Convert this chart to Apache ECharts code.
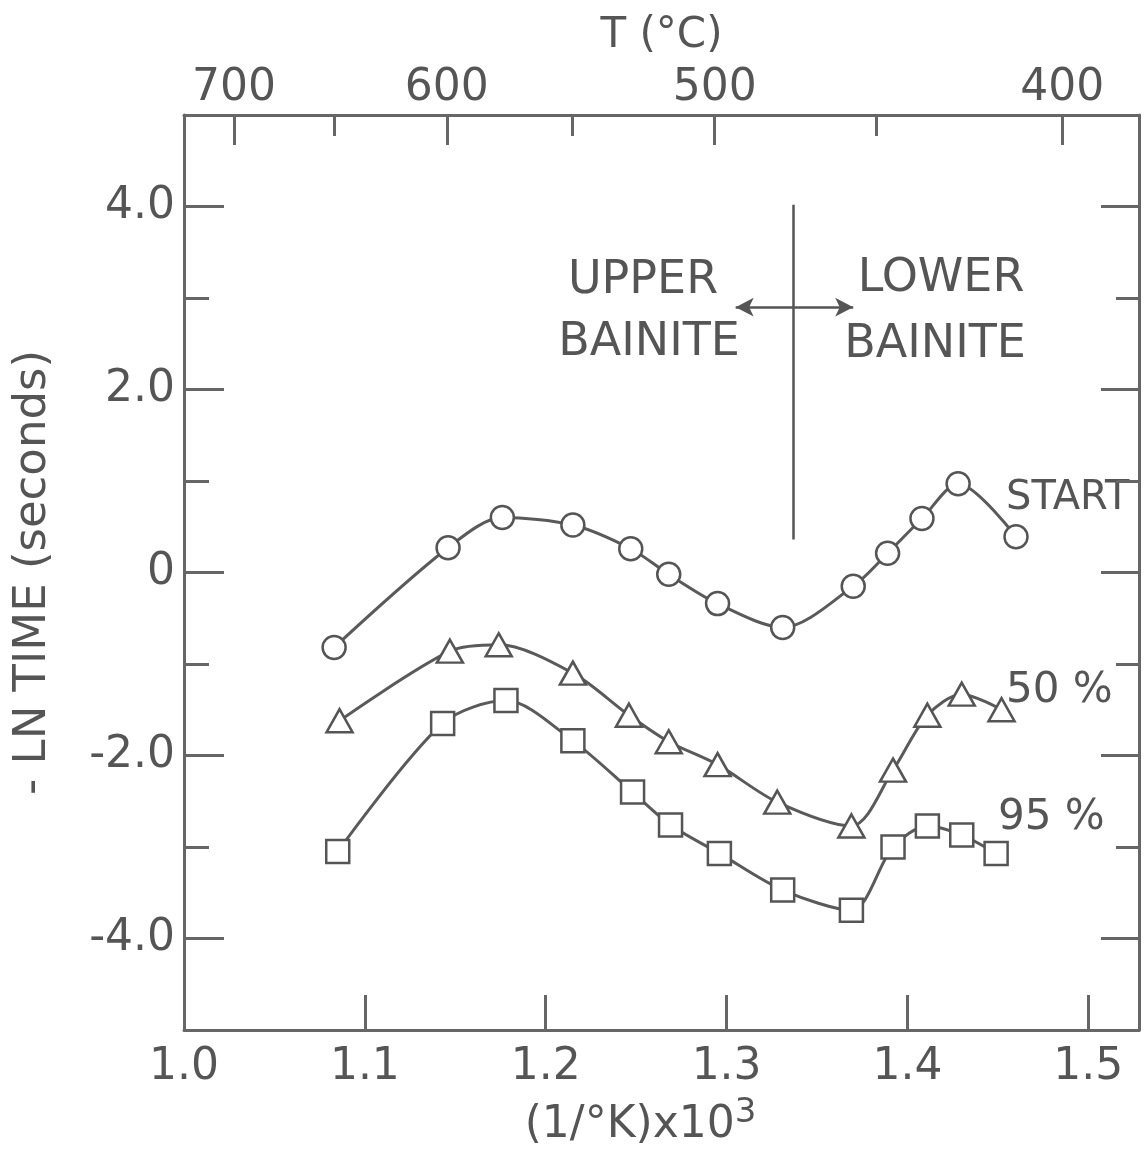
<!DOCTYPE html>
<html>
<head>
<meta charset="utf-8">
<script src="https://cdn.jsdelivr.net/npm/echarts@6/dist/echarts.min.js"></script>
<style>
  html, body { margin: 0; padding: 0; background: #ffffff; }
  #chart { width: 1147px; height: 1164px; }
</style>
</head>
<body>
<div id="chart"></div>
<script>
// ---- data (x = (1/°K) x 10^3, y = -ln time) ----
const startX = [1.083, 1.146, 1.176, 1.215, 1.247, 1.268, 1.295, 1.331, 1.370, 1.389, 1.408, 1.428, 1.460];
const startY = [-0.82, 0.27, 0.60, 0.52, 0.26, -0.02, -0.34, -0.60, -0.15, 0.21, 0.59, 0.97, 0.39];

const pct50X = [1.086, 1.147, 1.174, 1.215, 1.246, 1.268, 1.295, 1.328, 1.369, 1.392, 1.411, 1.430, 1.452];
const pct50Y = [-1.62, -0.86, -0.79, -1.10, -1.56, -1.85, -2.10, -2.51, -2.77, -2.16, -1.56, -1.33, -1.50];

const pct95X = [1.085, 1.143, 1.178, 1.215, 1.248, 1.269, 1.296, 1.331, 1.369, 1.392, 1.411, 1.430, 1.449];
const pct95Y = [-3.05, -1.65, -1.40, -1.84, -2.40, -2.76, -3.07, -3.47, -3.69, -3.00, -2.77, -2.87, -3.07];

// ---- axis ticks ----
const xTickValues = [1.1, 1.2, 1.3, 1.4, 1.5];
const xLabelValues = [1.0, 1.1, 1.2, 1.3, 1.4, 1.5];
const yMajorValues = [-4, -2, 0, 2, 4];
const yMinorValues = [-3, -1, 1, 3];
const tempMajorC = [700, 600, 500, 400];
const tempMinorC = [650, 550, 450];

// ---- annotations ----
const boundaryTempC = 475;          // upper / lower bainite boundary
const boundaryYRange = [4.02, 0.36];
const arrowY = 2.9;
const arrowXRange = [1.305, 1.370];

const toInvK = t => 1000 / (t + 273.15);
const pairs = (xs, ys) => xs.map((x, i) => [x, ys[i]]);

const FONT = 'DejaVu Sans';
const INK = '#555555';
const LINE = '#5a5a5a';
const X_MIN = 1.0, X_MAX = 1.528;

const axisLine = { show: true, onZero: false, lineStyle: { color: '#666', width: 3 } };

const chart = echarts.init(document.getElementById('chart'), null, { renderer: 'canvas' });

const symStyle = { color: '#ffffff', borderColor: INK, borderWidth: 2.5 };
function curve(name, data, symbol, size) {
  return {
    name, type: 'line', data, symbol, symbolSize: size, smooth: 0.3,
    xAxisIndex: 0, yAxisIndex: 0,
    lineStyle: { color: LINE, width: 3 },
    itemStyle: symStyle,
    showAllSymbol: true,
    emphasis: { disabled: true },
    z: 3
  };
}

const bx = toInvK(boundaryTempC);

const option = {
  animation: false,
  backgroundColor: '#ffffff',
  grid: { left: 184, right: 8, top: 115, bottom: 134, containLabel: false },
  xAxis: [
    {
      type: 'value', position: 'bottom', min: X_MIN, max: X_MAX,
      axisLine,
      axisTick: { show: true, inside: true, length: 35, customValues: xTickValues,
                  lineStyle: { color: '#666', width: 3 } },
      axisLabel: { show: true, customValues: xLabelValues, margin: 16,
                   formatter: v => v.toFixed(1),
                   fontFamily: FONT, fontSize: 44, color: INK },
      splitLine: { show: false },
      name: '{a|(1/°K)x10}{b|3}',
      nameLocation: 'middle', nameGap: 66,
      nameTextStyle: {
        padding: [0, 42, 0, 0],
        rich: {
          a: { fontFamily: FONT, fontSize: 44, color: INK, lineHeight: 50 },
          b: { fontFamily: FONT, fontSize: 34, color: INK, padding: [0, 0, 26, 0] }
        }
      }
    },
    {
      type: 'value', position: 'top', min: X_MIN, max: X_MAX,
      axisLine,
      axisTick: { show: true, inside: true, length: 30, customValues: tempMajorC.map(toInvK),
                  lineStyle: { color: '#666', width: 3 } },
      axisLabel: { show: true, customValues: tempMajorC.map(toInvK), margin: 4,
                   formatter: v => String(Math.round(1000 / v - 273.15)),
                   fontFamily: FONT, fontSize: 44, color: INK },
      splitLine: { show: false },
      name: 'T (°C)', nameLocation: 'middle', nameGap: 58,
      nameTextStyle: { fontFamily: FONT, fontSize: 42, color: INK }
    },
    {
      type: 'value', position: 'top', min: X_MIN, max: X_MAX,
      axisLine: { show: false, onZero: false },
      axisTick: { show: true, inside: true, length: 21, customValues: tempMinorC.map(toInvK),
                  lineStyle: { color: '#666', width: 3 } },
      axisLabel: { show: false },
      splitLine: { show: false }
    }
  ],
  yAxis: [
    {
      type: 'value', position: 'left', min: -5, max: 5,
      axisLine,
      axisTick: { show: true, inside: true, length: 40, customValues: yMajorValues,
                  lineStyle: { color: '#666', width: 3 } },
      axisLabel: { show: true, customValues: yMajorValues, margin: 9,
                   formatter: v => (v === 0 ? '0' : v.toFixed(1)),
                   fontFamily: FONT, fontSize: 44, color: INK },
      splitLine: { show: false },
      name: '- LN TIME (seconds)', nameLocation: 'middle', nameGap: 128,
      nameTextStyle: { fontFamily: FONT, fontSize: 45, color: INK }
    },
    {
      type: 'value', position: 'right', min: -5, max: 5,
      axisLine,
      axisTick: { show: true, inside: true, length: 38, customValues: yMajorValues,
                  lineStyle: { color: '#666', width: 3 } },
      axisLabel: { show: false },
      splitLine: { show: false }
    },
    {
      type: 'value', position: 'left', min: -5, max: 5,
      axisLine: { show: false, onZero: false },
      axisTick: { show: true, inside: true, length: 25, customValues: yMinorValues,
                  lineStyle: { color: '#666', width: 3 } },
      axisLabel: { show: false },
      splitLine: { show: false }
    },
    {
      type: 'value', position: 'right', min: -5, max: 5,
      axisLine: { show: false, onZero: false },
      axisTick: { show: true, inside: true, length: 23, customValues: yMinorValues,
                  lineStyle: { color: '#666', width: 3 } },
      axisLabel: { show: false },
      splitLine: { show: false }
    }
  ],
  series: [
    curve('START', pairs(startX, startY), 'circle', 23),
    curve('50 %', pairs(pct50X, pct50Y), 'triangle', [26, 23]),
    curve('95 %', pairs(pct95X, pct95Y), 'rect', 23),
    {
      name: 'boundary', type: 'line', data: [], xAxisIndex: 0, yAxisIndex: 0,
      markLine: {
        silent: true, animation: false,
        label: { show: false },
        lineStyle: { color: '#555', width: 2.5, type: 'solid' },
        emphasis: { disabled: true },
        data: [
          [
            { coord: [bx, boundaryYRange[0]], symbol: 'none' },
            { coord: [bx, boundaryYRange[1]], symbol: 'none' }
          ],
          [
            { coord: [arrowXRange[0], arrowY], symbol: 'arrow', symbolSize: [14, 18] },
            { coord: [arrowXRange[1], arrowY], symbol: 'arrow', symbolSize: [14, 18] }
          ]
        ]
      }
    }
  ],
  graphic: [
    { type: 'text', x: 643, y: 281, style: { text: 'UPPER', font: '46px "DejaVu Sans"', fill: INK, align: 'center', verticalAlign: 'middle' } },
    { type: 'text', x: 649, y: 343, style: { text: 'BAINITE', font: '46px "DejaVu Sans"', fill: INK, align: 'center', verticalAlign: 'middle' } },
    { type: 'text', x: 941, y: 279, style: { text: 'LOWER', font: '46px "DejaVu Sans"', fill: INK, align: 'center', verticalAlign: 'middle' } },
    { type: 'text', x: 935, y: 345, style: { text: 'BAINITE', font: '46px "DejaVu Sans"', fill: INK, align: 'center', verticalAlign: 'middle' } },
    { type: 'text', x: 1006, y: 499, style: { text: 'START', font: '40px "DejaVu Sans"', fill: INK, align: 'left', verticalAlign: 'middle' } },
    { type: 'text', x: 1006, y: 691, style: { text: '50 %', font: '42px "DejaVu Sans"', fill: INK, align: 'left', verticalAlign: 'middle' } },
    { type: 'text', x: 998, y: 818, style: { text: '95 %', font: '42px "DejaVu Sans"', fill: INK, align: 'left', verticalAlign: 'middle' } }
  ]
};

chart.setOption(option);
</script>
</body>
</html>
